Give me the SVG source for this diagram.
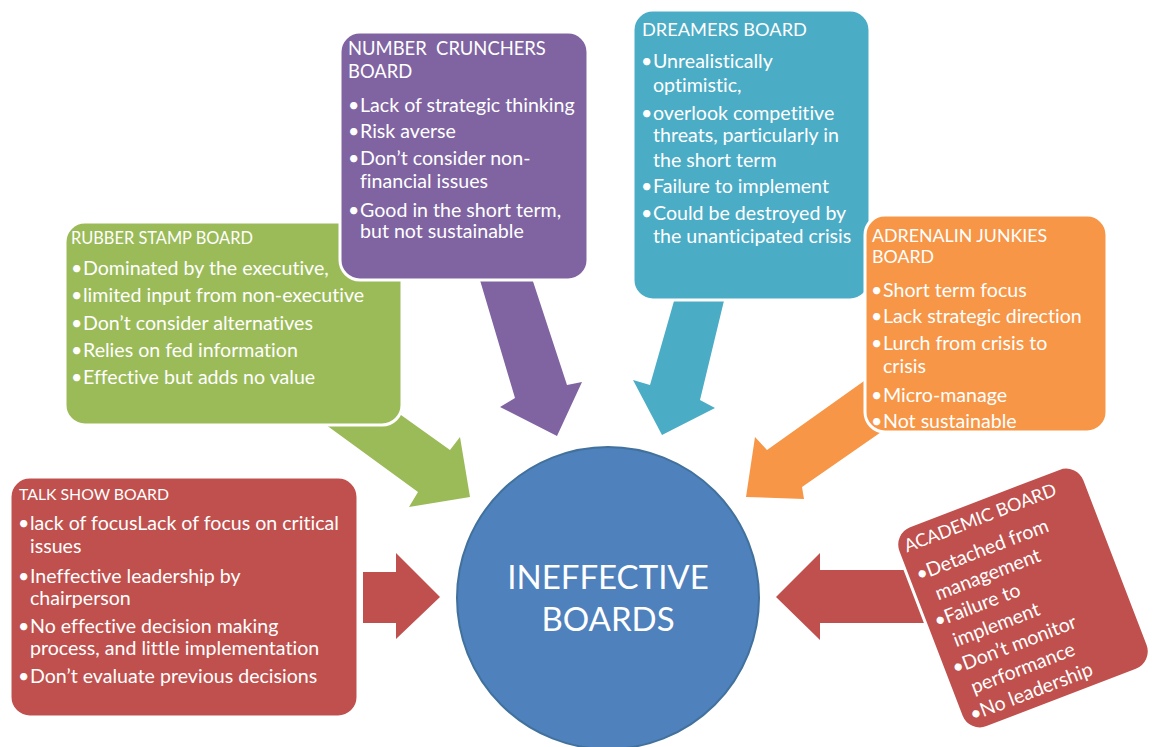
<svg xmlns="http://www.w3.org/2000/svg" width="1162" height="747" viewBox="0 0 1162 747">
  <style>
    .box { stroke: #ffffff; stroke-width: 3; }
    .t { font-family: Lato, "Liberation Sans", sans-serif; fill: #ffffff; font-variant-ligatures: none; }
    .b { font-size: 19.6px; }
    .red { fill: #C0504D; }
    .green { fill: #9BBB59; }
    .purple { fill: #8064A2; }
    .teal { fill: #4BACC6; }
    .orange { fill: #F79646; }
  </style>
  <rect width="1162" height="747" fill="#ffffff"/>

  <!-- block arrows pointing at the centre -->
  <g id="connectors">
    <polygon class="green" points="352,380 450,450 460,437 470,497 409,507 418,492 322,422"/>
    <polygon class="purple" points="474,260 526,260 567,385 582,382 557,436 500,407 515,398"/>
    <polygon class="teal" points="680,280 729,280 700,400 715,408 662,435 633,380 650,385"/>
    <polygon class="orange" points="895,359 767,450 755,437 746,497 804,499 802,487 897,421"/>
    <polygon class="red" points="363,572 396,572 396,553 440,597 396,639 396,623 363,623"/>
    <polygon class="red" points="776,597 820,553 820,570 930,570 930,623 820,623 820,640"/>
  </g>

  <g id="centre">
    <circle cx="608" cy="598" r="151" fill="#4F81BD" stroke="#41719C" stroke-width="2"/>
    <text class="t" x="608" y="589" font-size="33" text-anchor="middle">INEFFECTIVE</text>
    <text class="t" x="608" y="631" font-size="33" text-anchor="middle">BOARDS</text>
  </g>

  <g id="talk-show">
    <rect class="box red" x="10" y="477" width="348" height="240" rx="20"/>
    <text class="t" x="19" y="500" font-size="15.8">TALK SHOW BOARD</text>
    <g class="t b">
      <text x="18" y="530">•</text><text x="30" y="530">lack of focusLack of focus on critical</text>
      <text x="30" y="553">issues</text>
      <text x="18" y="583">•</text><text x="30" y="583">Ineffective leadership by</text>
      <text x="30" y="605">chairperson</text>
      <text x="18" y="633">•</text><text x="30" y="633">No effective decision making</text>
      <text x="30" y="655">process, and little implementation</text>
      <text x="18" y="683">•</text><text x="30" y="683">Don’t evaluate previous decisions</text>
    </g>
  </g>

  <g id="rubber-stamp">
    <rect class="box green" x="65" y="222" width="337" height="203" rx="20"/>
    <text class="t" x="71" y="244" font-size="16.4">RUBBER STAMP BOARD</text>
    <g class="t b">
      <text x="71" y="275">•</text><text x="83" y="275">Dominated by the executive,</text>
      <text x="71" y="302">•</text><text x="83" y="302">limited input from non-executive</text>
      <text x="71" y="330">•</text><text x="83" y="330">Don’t consider alternatives</text>
      <text x="71" y="357">•</text><text x="83" y="357">Relies on fed information</text>
      <text x="71" y="384">•</text><text x="83" y="384">Effective but adds no value</text>
    </g>
  </g>

  <g id="number-crunchers">
    <rect class="box purple" x="340" y="32" width="248" height="248" rx="20"/>
    <text class="t" x="348" y="55" font-size="18.4" xml:space="preserve">NUMBER  CRUNCHERS</text>
    <text class="t" x="348" y="78" font-size="18.4">BOARD</text>
    <g class="t b">
      <text x="348" y="112">•</text><text x="360" y="112">Lack of strategic thinking</text>
      <text x="348" y="138">•</text><text x="360" y="138">Risk averse</text>
      <text x="348" y="165">•</text><text x="360" y="165">Don’t consider non-</text>
      <text x="360" y="188">financial issues</text>
      <text x="348" y="217">•</text><text x="360" y="217">Good in the short term,</text>
      <text x="360" y="238">but not sustainable</text>
    </g>
  </g>

  <g id="dreamers">
    <rect class="box teal" x="633" y="10" width="237" height="290" rx="20"/>
    <text class="t" x="642" y="36" font-size="18.2">DREAMERS BOARD</text>
    <g class="t b">
      <text x="641" y="68">•</text><text x="653" y="68">Unrealistically</text>
      <text x="653" y="92">optimistic,</text>
      <text x="641" y="120">•</text><text x="653" y="120">overlook competitive</text>
      <text x="653" y="142">threats, particularly in</text>
      <text x="653" y="167">the short term</text>
      <text x="641" y="193">•</text><text x="653" y="193">Failure to implement</text>
      <text x="641" y="220">•</text><text x="653" y="220">Could be destroyed by</text>
      <text x="653" y="243">the unanticipated crisis</text>
    </g>
  </g>

  <g id="adrenalin-junkies">
    <rect class="box orange" x="865" y="215" width="242" height="217" rx="20"/>
    <text class="t" x="872" y="242" font-size="17.8">ADRENALIN JUNKIES</text>
    <text class="t" x="872" y="263" font-size="17.8">BOARD</text>
    <g class="t b">
      <text x="871" y="297">•</text><text x="883" y="297">Short term focus</text>
      <text x="871" y="323">•</text><text x="883" y="323">Lack strategic direction</text>
      <text x="871" y="350">•</text><text x="883" y="350">Lurch from crisis to</text>
      <text x="883" y="373">crisis</text>
      <text x="871" y="402">•</text><text x="883" y="402">Micro-manage</text>
      <text x="871" y="428">•</text><text x="883" y="428">Not sustainable</text>
    </g>
  </g>

  <g id="academic" transform="translate(1023 598) rotate(-21)">
    <rect class="box red" x="-100" y="-108" width="200" height="216" rx="20"/>
    <text class="t" x="-92" y="-84" font-size="18">ACADEMIC BOARD</text>
    <g class="t b">
      <text x="-91" y="-53">•</text><text x="-80" y="-53">Detached from</text>
      <text x="-80" y="-28">management</text>
      <text x="-91" y="-3">•</text><text x="-80" y="-3">Failure to</text>
      <text x="-80" y="22">implement</text>
      <text x="-91" y="47">•</text><text x="-80" y="47">Don’t monitor</text>
      <text x="-80" y="72">performance</text>
      <text x="-91" y="97">•</text><text x="-80" y="97">No leadership</text>
    </g>
  </g>
</svg>
